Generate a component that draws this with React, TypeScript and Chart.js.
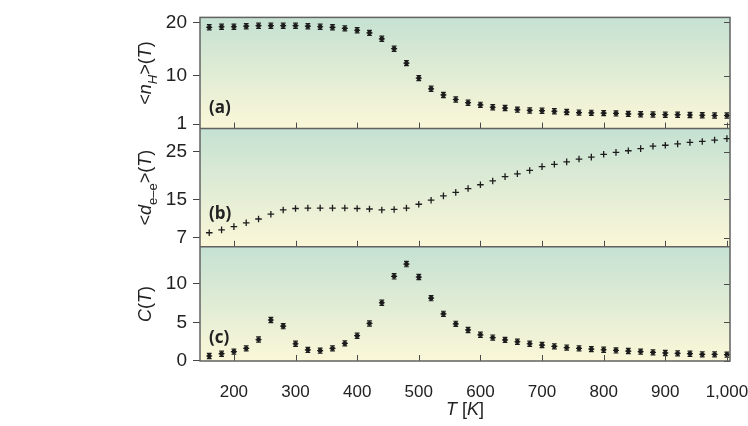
import React, { useEffect, useRef } from 'react';
import { Chart, registerables } from 'chart.js';

Chart.register(...registerables);

// ---------------- data ----------------
const temperatures = [
  160, 180, 200, 220, 240, 260, 280, 300, 320, 340, 360, 380, 400, 420, 440,
  460, 480, 500, 520, 540, 560, 580, 600, 620, 640, 660, 680, 700, 720, 740,
  760, 780, 800, 820, 840, 860, 880, 900, 920, 940, 960, 980, 1000,
];

// (a) <n_H>(T)
const hydrogenCount = [
  19.1, 19.2, 19.2, 19.3, 19.4, 19.4, 19.4, 19.4, 19.3, 19.2, 19.1, 18.9, 18.55,
  18.05, 16.95, 15.1, 12.4, 9.6, 7.6, 6.45, 5.6, 5.0, 4.6, 4.15, 4.0, 3.7, 3.55,
  3.5, 3.4, 3.25, 3.15, 3.1, 3.05, 3.0, 2.9, 2.85, 2.8, 2.75, 2.75, 2.7, 2.65,
  2.6, 2.6,
];
const hydrogenCountErr = [
  0.4, 0.35, 0.35, 0.4, 0.35, 0.3, 0.3, 0.3, 0.25, 0.25, 0.25, 0.2, 0.2, 0.2,
  0.2, 0.2, 0.2, 0.2, 0.2, 0.2, 0.15, 0.15, 0.15, 0.15, 0.15, 0.15, 0.15, 0.15,
  0.15, 0.15, 0.15, 0.15, 0.15, 0.15, 0.15, 0.15, 0.15, 0.15, 0.15, 0.15, 0.15,
  0.15, 0.3,
];

// (b) <d_e-e>(T)
const electronDistance = [
  8.0, 8.6, 9.3, 10.1, 10.9, 11.9, 12.8, 13.1, 13.2, 13.2, 13.2, 13.2, 13.1,
  13.0, 12.8, 12.9, 13.2, 14.0, 14.85, 15.75, 16.5, 17.3, 18.1, 18.9, 19.8,
  20.4, 21.1, 21.9, 22.4, 22.9, 23.5, 23.9, 24.5, 24.9, 25.25, 25.7, 26.2, 26.4,
  26.7, 27.0, 27.2, 27.5, 27.8,
];

// (c) C(T)
const heatCapacity = [
  0.6, 0.9, 1.17, 1.6, 2.75, 5.3, 4.5, 2.2, 1.4, 1.3, 1.6, 2.25, 3.25, 4.85,
  7.55, 11.0, 12.6, 10.9, 8.15, 6.1, 4.8, 4.0, 3.37, 3.0, 2.7, 2.46, 2.2, 2.03,
  1.86, 1.7, 1.6, 1.5, 1.42, 1.33, 1.25, 1.17, 1.08, 1.0, 0.95, 0.9, 0.82, 0.82,
  0.78,
];
const heatCapacityErr = [
  0.1, 0.1, 0.1, 0.1, 0.15, 0.3, 0.2, 0.15, 0.1, 0.1, 0.1, 0.1, 0.12, 0.15,
  0.25, 0.35, 0.35, 0.3, 0.2, 0.12, 0.1, 0.1, 0.1, 0.1, 0.1, 0.1, 0.1, 0.1, 0.1,
  0.1, 0.1, 0.1, 0.1, 0.1, 0.1, 0.1, 0.1, 0.1, 0.1, 0.1, 0.1, 0.1, 0.1,
];

const xTickValues = [200, 300, 400, 500, 600, 700, 800, 900, 1000];
const ticksA = [1, 10, 20];
const ticksB = [7, 15, 25];
const ticksC = [0, 5, 10];
const panelLabels = ['(a)', '(b)', '(c)'];

// ---------------- styling ----------------
const FONT = "'Liberation Sans', Arial, Helvetica, sans-serif";
const LABEL_FONT = "'Open Sans', 'Noto Sans', sans-serif";
const BG_TOP = '#c5e1d2';
const BG_BOTTOM = '#fbf7d8';
const FRAME = '#626262';
const INK = '#1c1c1c';

type Seg = { t: string; it?: boolean; sub?: boolean };

function drawSegments(ctx: CanvasRenderingContext2D, segs: Seg[], size: number) {
  const subSize = Math.round(size * 0.72);
  const fontFor = (s: Seg) =>
    `${s.it ? 'italic ' : ''}${s.sub ? subSize : size}px ${FONT}`;
  let total = 0;
  for (const s of segs) {
    ctx.font = fontFor(s);
    total += ctx.measureText(s.t).width;
  }
  let x = -total / 2;
  ctx.textAlign = 'left';
  ctx.textBaseline = 'alphabetic';
  for (const s of segs) {
    ctx.font = fontFor(s);
    ctx.fillText(s.t, x, s.sub ? size * 0.33 + size * 0.35 : size * 0.35);
    x += ctx.measureText(s.t).width;
  }
}

const yTitles: Seg[][] = [
  [{ t: '<' }, { t: 'n', it: true }, { t: 'H', it: true, sub: true }, { t: '>(' }, { t: 'T', it: true }, { t: ')' }],
  [{ t: '<' }, { t: 'd', it: true }, { t: 'e–e', sub: true }, { t: '>(' }, { t: 'T', it: true }, { t: ')' }],
  [{ t: 'C', it: true }, { t: '(' }, { t: 'T', it: true }, { t: ')' }],
];
const xTitle: Seg[] = [{ t: 'T', it: true }, { t: ' [' }, { t: 'K', it: true }, { t: ']' }];

const panelIds = ['ya', 'yb', 'yc'];
const panelTicks = [ticksA, ticksB, ticksC];
const labelOffsets = [20, 33, 23];
const errorSets: Record<number, number[]> = { 0: hydrogenCountErr, 2: heatCapacityErr };

const decorPlugin = {
  id: 'decor',
  beforeDraw(chart: any) {
    const { ctx, chartArea } = chart;
    ctx.save();
    for (const id of panelIds) {
      const s = chart.scales[id];
      const g = ctx.createLinearGradient(0, s.top, 0, s.bottom);
      g.addColorStop(0, BG_TOP);
      g.addColorStop(1, BG_BOTTOM);
      ctx.fillStyle = g;
      ctx.fillRect(chartArea.left, s.top, chartArea.right - chartArea.left, s.bottom - s.top);
    }
    ctx.restore();
  },
  afterDatasetsDraw(chart: any) {
    const { ctx, chartArea } = chart;
    const xs = chart.scales.x;
    ctx.save();
    // error bars and marker arms
    for (const key of Object.keys(errorSets)) {
      const di = Number(key);
      const errs = errorSets[di];
      const meta = chart.getDatasetMeta(di);
      const ys = chart.scales[meta.yAxisID];
      const vals = chart.data.datasets[di].data as any[];
      ctx.strokeStyle = INK;
      ctx.lineWidth = 1.2;
      meta.data.forEach((pt: any, j: number) => {
        const v = vals[j].y;
        const e = errs[j];
        let yTop = ys.getPixelForValue(v + e);
        let yBot = ys.getPixelForValue(v - e);
        if (pt.y - yTop < 2.6) yTop = pt.y - 2.6;
        if (yBot - pt.y < 2.6) yBot = pt.y + 2.6;
        ctx.beginPath();
        ctx.moveTo(pt.x, yTop);
        ctx.lineTo(pt.x, yBot);
        ctx.moveTo(pt.x - 2.4, yTop);
        ctx.lineTo(pt.x + 2.4, yTop);
        ctx.moveTo(pt.x - 2.4, yBot);
        ctx.lineTo(pt.x + 2.4, yBot);
        ctx.moveTo(pt.x - 3, pt.y);
        ctx.lineTo(pt.x + 3, pt.y);
        ctx.stroke();
      });
    }
    // inner ticks
    ctx.strokeStyle = '#4a4a4a';
    ctx.lineWidth = 1;
    panelIds.forEach((id, pi) => {
      const s = chart.scales[id];
      ctx.beginPath();
      for (const v of xTickValues) {
        const px = Math.round(xs.getPixelForValue(v)) + 0.5;
        ctx.moveTo(px, s.bottom);
        ctx.lineTo(px, s.bottom - 6);
      }
      for (const v of panelTicks[pi]) {
        const py = Math.round(s.getPixelForValue(v)) + 0.5;
        ctx.moveTo(chartArea.right, py);
        ctx.lineTo(chartArea.right - 6, py);
      }
      ctx.stroke();
    });
    // frame and separators
    ctx.strokeStyle = FRAME;
    ctx.lineWidth = 1.5;
    ctx.strokeRect(chartArea.left, chartArea.top, chartArea.right - chartArea.left, chartArea.bottom - chartArea.top);
    ctx.beginPath();
    for (const id of ['ya', 'yb']) {
      const b = chart.scales[id].bottom;
      ctx.moveTo(chartArea.left, b);
      ctx.lineTo(chartArea.right, b);
    }
    ctx.stroke();
    // panel letters
    ctx.fillStyle = '#222';
    ctx.font = `bold 17px ${LABEL_FONT}`;
    ctx.textAlign = 'left';
    ctx.textBaseline = 'middle';
    panelIds.forEach((id, pi) => {
      const s = chart.scales[id];
      ctx.fillText(panelLabels[pi], chartArea.left + 9, s.bottom - labelOffsets[pi]);
    });
    ctx.restore();
  },
  afterDraw(chart: any) {
    const { ctx, chartArea } = chart;
    ctx.save();
    ctx.fillStyle = '#222';
    panelIds.forEach((id, pi) => {
      const s = chart.scales[id];
      ctx.save();
      ctx.translate(145, (s.top + s.bottom) / 2);
      ctx.rotate(-Math.PI / 2);
      drawSegments(ctx, yTitles[pi], 18);
      ctx.restore();
    });
    ctx.save();
    ctx.translate((chartArea.left + chartArea.right) / 2, 409);
    drawSegments(ctx, xTitle, 18);
    ctx.restore();
    ctx.restore();
  },
};

function yScale(min: number, max: number, ticks: number[], weight: number) {
  return {
    type: 'linear',
    position: 'left',
    stack: 'panels',
    stackWeight: weight,
    min,
    max,
    border: { display: false },
    grid: { drawOnChartArea: false, drawTicks: true, tickLength: 7, color: '#444', lineWidth: 1 },
    ticks: { padding: 6, color: '#222', font: { size: 19, family: FONT } },
    afterBuildTicks: (s: any) => {
      s.ticks = ticks.map((v) => ({ value: v }));
    },
    afterFit: (s: any) => {
      s.width = 200;
    },
  };
}

export default function App() {
  const canvasRef = useRef<HTMLCanvasElement | null>(null);

  useEffect(() => {
    if (!canvasRef.current) return;
    const toPts = (vals: number[]) => temperatures.map((t, i) => ({ x: t, y: vals[i] }));
    const chart = new Chart(canvasRef.current, {
      type: 'scatter',
      data: {
        datasets: [
          {
            data: toPts(hydrogenCount),
            yAxisID: 'ya',
            pointStyle: 'circle',
            pointRadius: 2.3,
            pointBackgroundColor: INK,
            pointBorderWidth: 0,
          },
          {
            data: toPts(electronDistance),
            yAxisID: 'yb',
            pointStyle: 'cross',
            pointRadius: 3.3,
            pointBorderColor: INK,
            pointBorderWidth: 1.3,
          },
          {
            data: toPts(heatCapacity),
            yAxisID: 'yc',
            pointStyle: 'circle',
            pointRadius: 2.3,
            pointBackgroundColor: INK,
            pointBorderWidth: 0,
          },
        ],
      },
      options: {
        responsive: false,
        animation: false,
        devicePixelRatio: 1,
        layout: { padding: { left: 0, top: 13, right: 18, bottom: 0 } },
        plugins: { legend: { display: false }, tooltip: { enabled: false }, title: { display: false } },
        scales: {
          x: {
            type: 'linear',
            position: 'bottom',
            min: 145,
            max: 1005,
            border: { display: false },
            grid: { display: false },
            ticks: { padding: 13, color: '#222', font: { size: 17, family: FONT } },
            afterBuildTicks: (s: any) => {
              s.ticks = xTickValues.map((v) => ({ value: v }));
            },
            afterFit: (s: any) => {
              s.height = 65;
              s.paddingLeft = 0;
              s.paddingRight = 0;
            },
          },
          yc: yScale(-0.05, 14.85, ticksC, 115),
          yb: yScale(5.05, 29.9, ticksB, 119),
          ya: yScale(0.15, 20.95, ticksA, 112),
        } as any,
      },
      plugins: [decorPlugin],
    });
    return () => chart.destroy();
  }, []);

  return (
    <div style={{ position: 'fixed', left: 0, top: 0, width: 748, height: 426, background: '#fff' }}>
      <canvas ref={canvasRef} width={748} height={426} style={{ display: 'block' }} />
    </div>
  );
}
